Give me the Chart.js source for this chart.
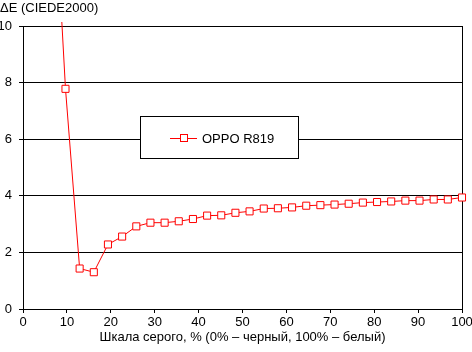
<!DOCTYPE html>
<html>
<head>
<meta charset="utf-8">
<script src="https://cdn.jsdelivr.net/npm/chart.js@4"></script>
<style>
  body { margin: 0; background: #fff; }
  #wrap { width: 472px; height: 352px; }
</style>
</head>
<body>
<div id="wrap"><canvas id="grey" width="472" height="352"></canvas></div>
<script>
// grey steps, % (first one is off the top of the scale)
var greyLevels = [6.45, 9.68, 12.9, 16.13, 19.35, 22.58, 25.81, 29.03, 32.26, 35.48,
  38.71, 41.94, 45.16, 48.39, 51.61, 54.84, 58.06, 61.29, 64.52, 67.74,
  70.97, 74.19, 77.42, 80.65, 83.87, 87.1, 90.32, 93.55, 96.77, 100];
var deltaE = [16.9, 7.78, 1.43, 1.3, 2.28, 2.56, 2.92, 3.05, 3.05, 3.1,
  3.18, 3.3, 3.31, 3.4, 3.45, 3.55, 3.56, 3.59, 3.65, 3.67,
  3.69, 3.72, 3.76, 3.78, 3.8, 3.83, 3.83, 3.87, 3.87, 3.94];
var seriesName = "OPPO R819";
var yTitle = "ΔE (CIEDE2000)";
var xTitle = "Шкала серого, % (0% – черный, 100% – белый)";

var font = "13px Arial, 'Liberation Sans', sans-serif";

var points = greyLevels.map(function (x, i) { return { x: x, y: deltaE[i] }; });

// y title at top left + legend box inside the plot
var extras = {
  id: "extras",
  afterDatasetsDraw: function (chart) {
    var ctx = chart.ctx;
    var ds = chart.data.datasets[0];
    ctx.save();
    ctx.font = font;
    ctx.fillStyle = "#000";
    ctx.textBaseline = "middle";
    ctx.textAlign = "left";
    ctx.fillText(yTitle, 0, 8);

    // legend
    ctx.fillStyle = "#fff";
    ctx.fillRect(140.5, 116.5, 158, 42);
    ctx.strokeStyle = "#000";
    ctx.lineWidth = 1;
    ctx.strokeRect(140.5, 116.5, 158, 42);
    ctx.strokeStyle = ds.borderColor;
    ctx.beginPath();
    ctx.moveTo(170, 138.5);
    ctx.lineTo(197, 138.5);
    ctx.stroke();
    ctx.fillStyle = "#fff";
    ctx.fillRect(180.5, 134.5, 7, 7);
    ctx.strokeRect(180.5, 134.5, 7, 7);
    ctx.fillStyle = "#000";
    ctx.fillText(ds.label, 202, 139);
    ctx.restore();
  }
};

new Chart("grey", {
  type: "line",
  data: {
    datasets: [{
      label: seriesName,
      data: points,
      borderColor: "#ff0000",
      borderWidth: 1,
      backgroundColor: "#ffffff",
      pointStyle: "rect",
      pointRadius: 5,
      pointHoverRadius: 5,
      pointBorderWidth: 1,
      pointBackgroundColor: "#ffffff",
      pointBorderColor: "#ff0000",
      tension: 0,
      clip: { left: 6, top: 4, right: 6, bottom: 6 }
    }]
  },
  options: {
    responsive: false,
    animation: false,
    layout: { padding: { left: 0, top: 26, right: 10, bottom: 0 } },
    plugins: {
      legend: { display: false },
      tooltip: { enabled: false }
    },
    scales: {
      x: {
        type: "linear",
        min: 0,
        max: 100,
        afterFit: function (s) { s.height = 43; s.paddingRight = 0; },
        ticks: { stepSize: 10, color: "#000", font: { family: "Arial", size: 13 }, padding: 2, maxRotation: 0 },
        grid: {
          drawOnChartArea: true,
          color: function (c) { return c.tick && c.tick.value === 100 ? "#000" : "rgba(0,0,0,0)"; },
          tickColor: "#000",
          tickLength: 4,
          lineWidth: 1
        },
        border: { display: true, color: "#000", width: 1 },
        title: {
          display: true,
          text: xTitle,
          color: "#000",
          font: { family: "Arial", size: 13 },
          padding: { top: 0, bottom: 7 }
        }
      },
      y: {
        min: 0,
        max: 10,
        afterFit: function (s) { s.width = 23; },
        ticks: { stepSize: 2, color: "#000", font: { family: "Arial", size: 13 }, padding: 7 },
        grid: { color: "#000", tickColor: "#000", tickLength: 4, lineWidth: 1 },
        border: { display: true, color: "#000", width: 1 }
      }
    }
  },
  plugins: [extras]
});
</script>
</body>
</html>
